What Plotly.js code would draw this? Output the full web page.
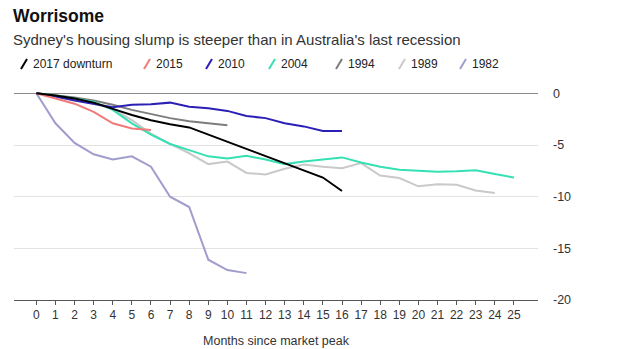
<!DOCTYPE html>
<html>
<head>
<meta charset="utf-8">
<script src="https://cdn.plot.ly/plotly-3.0.1.min.js"></script>
<style>body{margin:0;background:#fff}#chart{width:620px;height:349px}</style>
</head>
<body>
<div id="chart"></div>
<script>
const seriesNames = ["2017 downturn","2015","2010","2004","1994","1989","1982"];
const s2017 = [0,-0.2,-0.5,-0.9,-1.5,-2.1,-2.6,-3.0,-3.3,-4.0,-4.7,-5.4,-6.1,-6.8,-7.5,-8.15,-9.45];
const s2015 = [0,-0.5,-1.0,-1.8,-2.9,-3.4,-3.55];
const s2010 = [0,-0.3,-0.7,-1.0,-1.35,-1.1,-1.05,-0.9,-1.3,-1.45,-1.7,-2.2,-2.4,-2.9,-3.2,-3.65,-3.65];
const s2004 = [0,-0.2,-0.5,-0.8,-1.6,-2.9,-4.0,-4.9,-5.5,-6.1,-6.3,-6.05,-6.4,-6.85,-6.6,-6.4,-6.2,-6.7,-7.1,-7.4,-7.5,-7.6,-7.55,-7.45,-7.8,-8.15];
const s1994 = [0,-0.2,-0.4,-0.7,-1.1,-1.6,-2.0,-2.4,-2.7,-2.9,-3.1];
const s1989 = [0,-0.3,-0.6,-1.0,-1.5,-2.6,-3.9,-4.9,-5.8,-6.85,-6.6,-7.7,-7.85,-7.3,-6.9,-7.1,-7.25,-6.75,-7.95,-8.2,-9.0,-8.8,-8.85,-9.4,-9.65];
const s1982 = [0,-2.9,-4.8,-5.9,-6.4,-6.1,-7.1,-10.0,-11.0,-16.1,-17.1,-17.4];
const yTicks = [0,-5,-10,-15,-20];
const xTicks = Array.from({length:26},(_,i)=>i);
const titleText = "Worrisome";
const subtitleText = "Sydney's housing slump is steeper than in Australia's last recession";
const xTitle = "Months since market peak";

const seriesData = [s2017,s2015,s2010,s2004,s1994,s1989,s1982];
const colors = ["#000000","#ef7b78","#2b1fb5","#35e0b3","#7d7d7d","#c9c9c9","#a09dcc"];
const drawOrder = [6,5,4,3,2,1,0];

const traces = drawOrder.map(i => ({
  x: seriesData[i].map((_,k)=>k),
  y: seriesData[i],
  type: 'scatter', mode: 'lines', name: seriesNames[i],
  line: {color: colors[i], width: 2},
  hoverinfo: 'skip'
}));

// pixel -> paper helpers (plot area: x 14..538, y 80..300)
const PL=14, PW=524, PT=80, PH=220;
const px = v => (v-PL)/PW;
const py = v => (PT+PH-v)/PH;

const FONT = 'Liberation Sans, Arial, sans-serif';
const legendSlashX = [21, 144, 206, 269, 336, 399, 460];
const annotations = [
  {xref:'paper', yref:'paper', x:px(11), y:py(16), xanchor:'left', yanchor:'middle', showarrow:false,
   text:'<b>'+titleText+'</b>', font:{family:FONT, size:17.5, color:'#111'}},
  {xref:'paper', yref:'paper', x:px(11), y:py(39), xanchor:'left', yanchor:'middle', showarrow:false,
   text:subtitleText, font:{family:FONT, size:15, color:'#333'}}
];
const shapes = [];
seriesNames.forEach((n,i)=>{
  const sx = legendSlashX[i];
  shapes.push({type:'line', xref:'paper', yref:'paper',
    x0:px(sx), y0:py(69), x1:px(sx+6), y1:py(59),
    line:{color:colors[i], width:2}});
  annotations.push({
    xref:'paper', yref:'paper', x:px(sx+10), y:py(64),
    xanchor:'left', yanchor:'middle', showarrow:false,
    text:n, font:{family:FONT, size:12, color:'#222'}
  });
});

const layout = {
  width: 620, height: 349,
  margin: {l:14, r:82, t:80, b:49},
  paper_bgcolor:'#fff', plot_bgcolor:'#fff',
  showlegend:false,
  font:{family:FONT, color:'#333'},
  xaxis:{
    range:[-1.17, 26.26], tickvals:xTicks, ticktext:xTicks.map(String),
    ticks:'outside', ticklen:4, tickcolor:'#555', tickwidth:1,
    showgrid:false, zeroline:false, showline:true, linecolor:'#555', linewidth:1,
    tickfont:{size:12, color:'#333'},
    title:{text:xTitle, font:{size:12.5, color:'#333'}, standoff:14},
    fixedrange:true
  },
  yaxis:{
    side:'right', range:[-20, 1.29], tickvals:yTicks, ticktext:yTicks.map(String),
    ticks:'', ticklabelstandoff:14,
    showgrid:true, gridcolor:'#e3e3e3', gridwidth:1,
    zeroline:true, zerolinecolor:'#8a8a8a', zerolinewidth:1.5,
    showline:false,
    tickfont:{size:12.5, color:'#333'},
    fixedrange:true
  },
  annotations: annotations,
  shapes: shapes
};
Plotly.newPlot('chart', traces, layout, {displayModeBar:false, staticPlot:true});
</script>
</body>
</html>
